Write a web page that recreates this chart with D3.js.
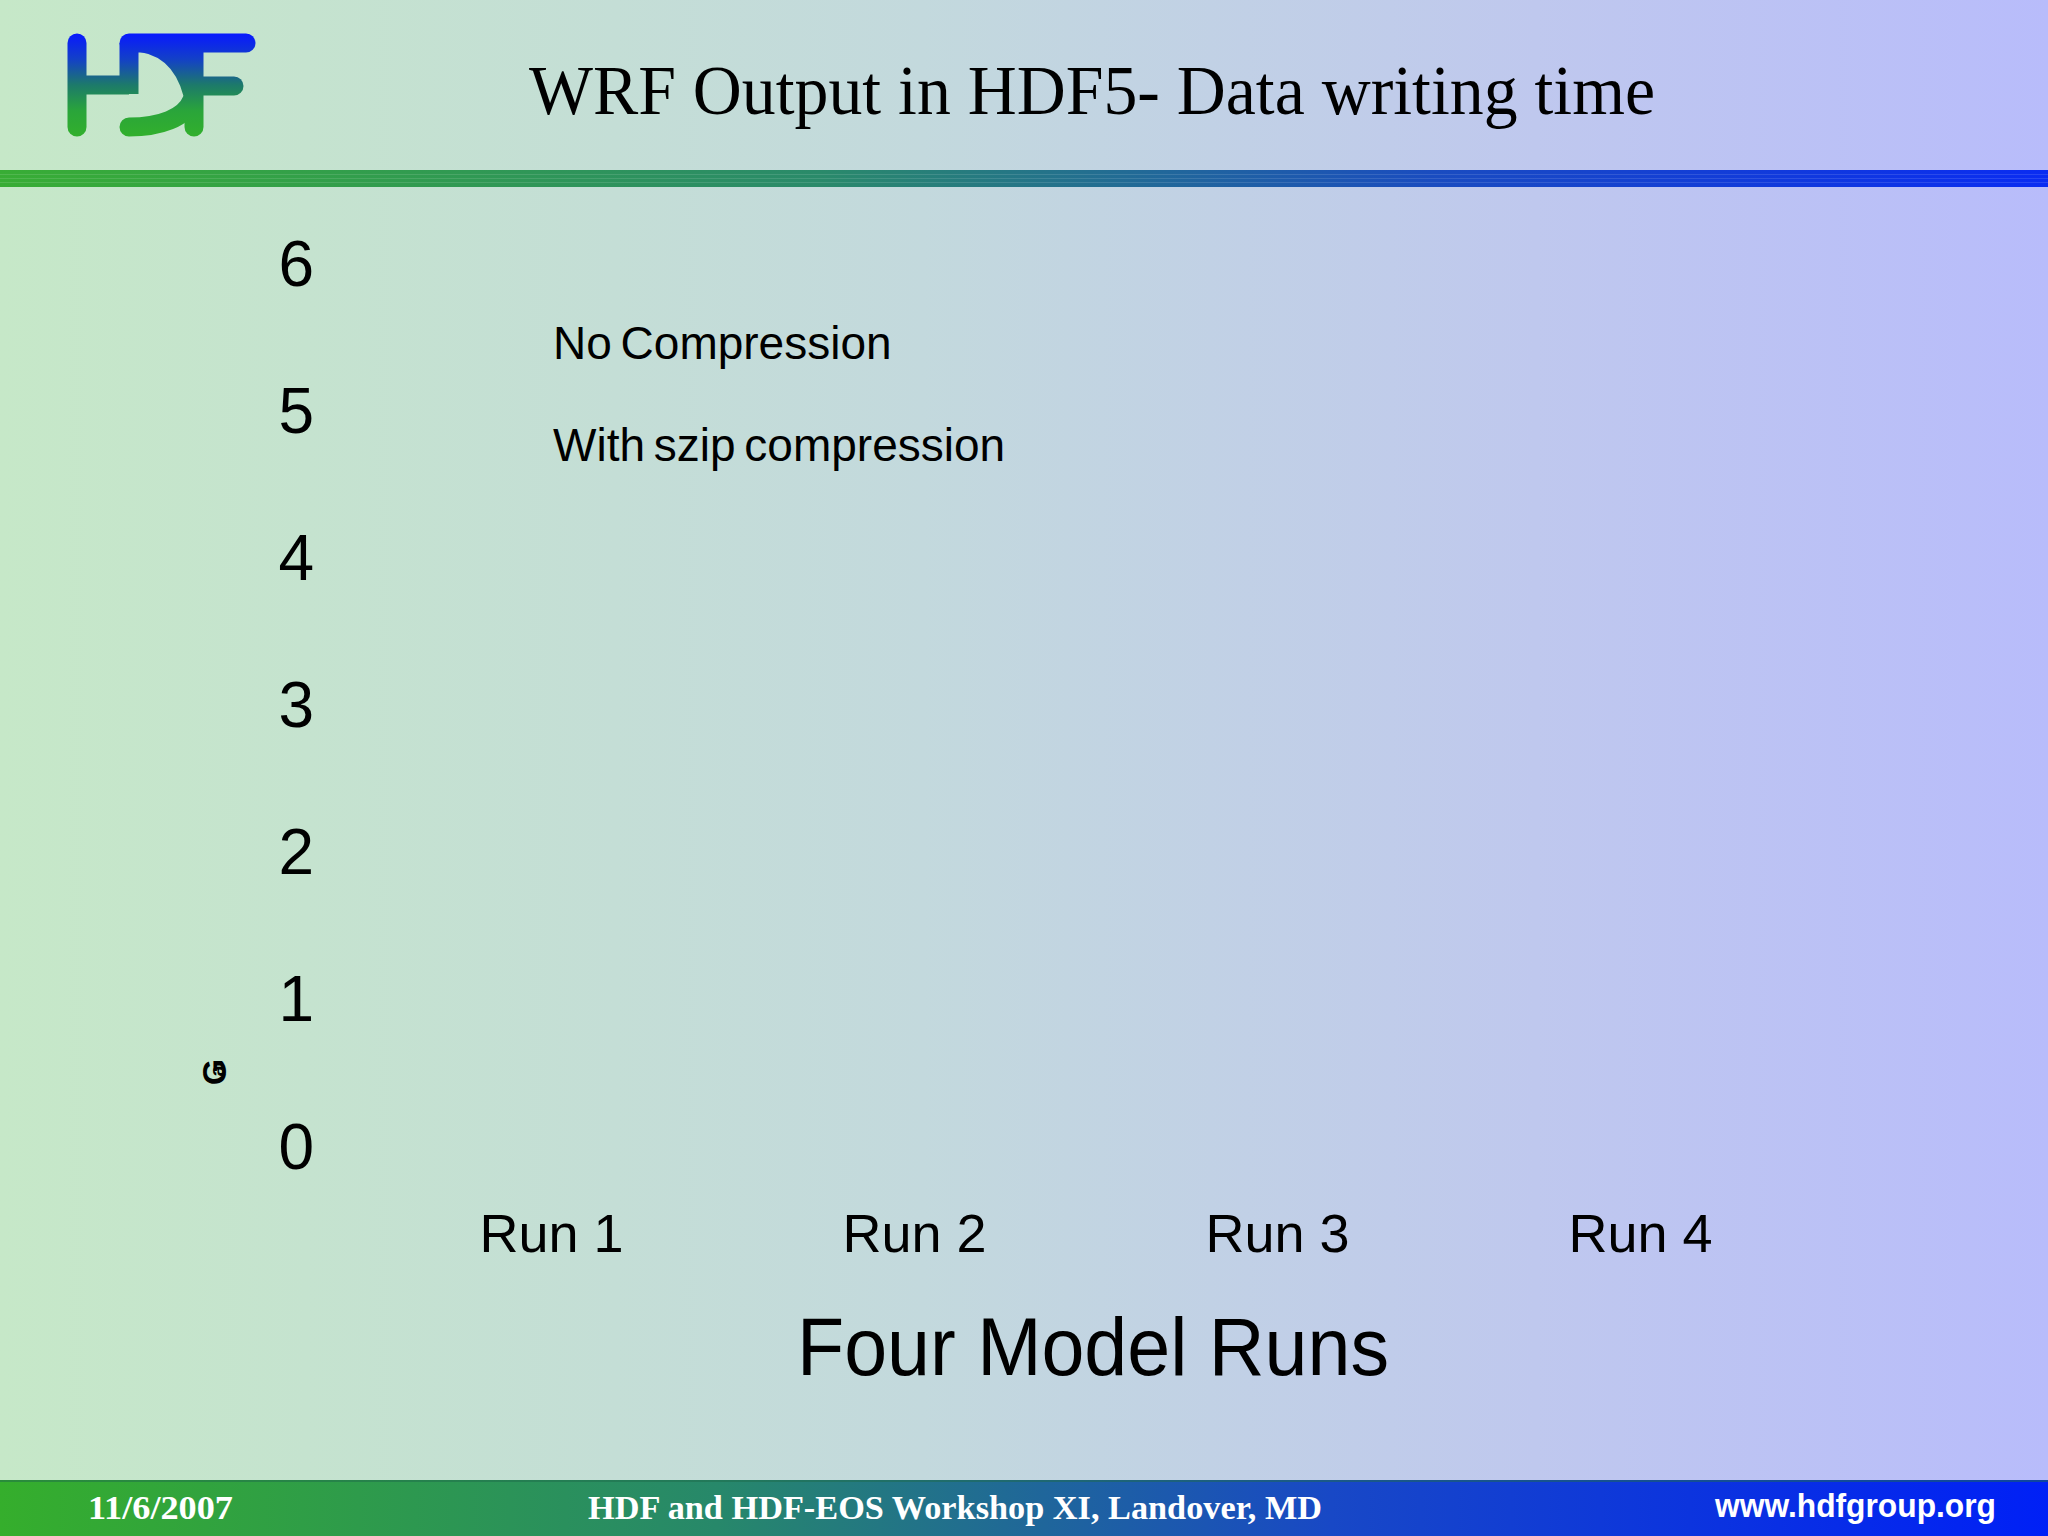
<!DOCTYPE html>
<html><head><meta charset="utf-8">
<script src="https://cdn.jsdelivr.net/npm/d3@7"></script>
<style>html,body{margin:0;padding:0;overflow:hidden;background:#c4e4cc}</style>
</head><body>
<script>
// ---- data ----
const runs = ["Run 1", "Run 2", "Run 3", "Run 4"];
const seriesNames = ["No Compression", "With szip compression"];
// bar values are not visible in the reference slide (bars did not render)
const noCompression = [null, null, null, null];
const szipCompression = [null, null, null, null];
const yTicks = [0, 1, 2, 3, 4, 5, 6];
const titleText = "WRF Output in HDF5- Data writing time";
const xAxisTitle = "Four Model Runs";
const footerTexts = ["11/6/2007", "HDF and HDF-EOS Workshop XI, Landover, MD", "www.hdfgroup.org"];

const W = 2048, H = 1536;
const svg = d3.select("body").append("svg").attr("width", W).attr("height", H);
const defs = svg.append("defs");

function hgrad(id, stops) {
  const g = defs.append("linearGradient").attr("id", id).attr("x1", 0).attr("x2", 1).attr("y1", 0).attr("y2", 0);
  stops.forEach(s => g.append("stop").attr("offset", s[0]).attr("stop-color", s[1]));
}
hgrad("bg", [[0, "#c6e8c8"], [0.45, "#c3d9dd"], [0.75, "#bfc8ee"], [1, "#b8bcfb"]]);
hgrad("band", [[0, "#38ad35"], [0.4, "#2a8a6a"], [0.7, "#1a4cc0"], [1, "#0a2cf2"]]);
hgrad("foot", [[0, "#35ae2c"], [0.35, "#27886a"], [0.65, "#1848c6"], [1, "#0020f6"]]);
const lg = defs.append("linearGradient").attr("id", "logo").attr("x1", 0).attr("x2", 0)
  .attr("gradientUnits", "userSpaceOnUse").attr("y1", 33).attr("y2", 137);
lg.append("stop").attr("offset", 0).attr("stop-color", "#0818ff");
lg.append("stop").attr("offset", 0.25).attr("stop-color", "#1340c8");
lg.append("stop").attr("offset", 0.5).attr("stop-color", "#1d7a6a");
lg.append("stop").attr("offset", 0.75).attr("stop-color", "#2aa53a");
lg.append("stop").attr("offset", 1).attr("stop-color", "#32b02c");

svg.append("rect").attr("width", W).attr("height", H).attr("fill", "url(#bg)");

// top band
svg.append("rect").attr("x", 0).attr("y", 170).attr("width", W).attr("height", 17).attr("fill", "url(#band)");
[174, 178, 182].forEach(y => svg.append("rect").attr("x", 0).attr("y", y).attr("width", W).attr("height", 1)
  .attr("fill", "#ffffff").attr("opacity", 0.12));

// footer band
svg.append("rect").attr("x", 0).attr("y", 1480).attr("width", W).attr("height", 56).attr("fill", "url(#foot)");
svg.append("rect").attr("x", 0).attr("y", 1480).attr("width", W).attr("height", 2).attr("fill", "#1d6a4a").attr("opacity", 0.5);

// logo
const logo = svg.append("g").attr("fill", "none").attr("stroke", "url(#logo)").attr("stroke-width", 19).attr("stroke-linecap", "round");
logo.append("path").attr("d", "M77,43 V127");
logo.append("path").attr("d", "M77,85 H129").attr("stroke-linecap", "butt");
logo.append("path").attr("d", "M129,43 H246");
logo.append("path").attr("d", "M129,43 V94").attr("stroke-linecap", "butt");
logo.append("path").attr("d", "M194,50 V127");
logo.append("path").attr("d", "M194,86 H234");
logo.append("path").attr("d", "M129,127 C160,127 185,118 192,100");
svg.append("path").attr("d", "M140,52 Q178,58 186,108 L203,108 L203,52 Z").attr("fill", "url(#logo)");

// title
svg.append("text").attr("x", 1092).attr("y", 114).attr("text-anchor", "middle")
  .attr("font-family", "'Liberation Serif','Times New Roman',serif").attr("font-size", 70)
  .attr("textLength", 1126).attr("lengthAdjust", "spacingAndGlyphs").attr("fill", "#000").text(titleText);

// scales
const y = d3.scaleLinear().domain([0, 6]).range([1147, 264]);
const x = d3.scaleBand().domain(runs).range([370, 1822]).padding(0);
const xs = d3.scaleBand().domain(seriesNames).range([0, x.bandwidth()]).paddingInner(0.1).paddingOuter(0.4);

// y axis labels (no axis line visible)
const yAxis = d3.axisLeft(y).tickValues(yTicks).tickSize(0).tickPadding(0).tickFormat(d3.format("d"));
const yg = svg.append("g").attr("transform", "translate(314,0)").call(yAxis);
yg.select(".domain").remove();
yg.selectAll("text").attr("font-family", "'Liberation Sans',Arial,sans-serif").attr("font-size", 64)
  .attr("fill", "#000").attr("dy", "0.33em");

// x axis labels
const xAxis = d3.axisBottom(x).tickSize(0).tickPadding(0);
const xg = svg.append("g").attr("transform", "translate(0,1252)").call(xAxis);
xg.select(".domain").remove();
xg.selectAll("text").attr("font-family", "'Liberation Sans',Arial,sans-serif").attr("font-size", 54)
  .attr("fill", "#000").attr("dy", 0).attr("y", 0);

// bars (none visible in the reference)
const seriesData = [noCompression, szipCompression];
const barColors = ["#333399", "#993366"];
seriesData.forEach((vals, si) => {
  svg.append("g").selectAll("rect").data(runs.map((r, i) => ({ r, v: vals[i] })).filter(d => d.v != null))
    .join("rect")
    .attr("x", d => x(d.r) + xs(seriesNames[si])).attr("width", xs.bandwidth())
    .attr("y", d => y(d.v)).attr("height", d => y(0) - y(d.v)).attr("fill", barColors[si]);
});

// legend texts
const legendY = [359, 461];
svg.append("g").selectAll("text").data(seriesNames).join("text")
  .attr("x", 553).attr("y", (d, i) => legendY[i])
  .attr("font-family", "'Liberation Sans',Arial,sans-serif").attr("font-size", 46).attr("fill", "#000")
  .style("word-spacing", "-4px").text(d => d);

// x axis title
svg.append("text").attr("x", 797).attr("y", 1375)
  .attr("font-family", "'Liberation Sans',Arial,sans-serif").attr("font-size", 81)
  .attr("textLength", 592).attr("lengthAdjust", "spacingAndGlyphs").attr("fill", "#000").text(xAxisTitle);

// garbled tiny y-axis title glyph
const gl = svg.append("g").attr("transform", "translate(214,1072) rotate(-90)");
gl.append("text").attr("text-anchor", "middle").attr("dy", "0.35em")
  .attr("font-family", "'Liberation Sans',Arial,sans-serif").attr("font-weight", "bold").attr("font-size", 34)
  .attr("fill", "#000").text("G");
gl.append("text").attr("text-anchor", "middle").attr("dy", "0.35em").attr("x", 1).attr("y", 3)
  .attr("font-family", "'Liberation Sans',Arial,sans-serif").attr("font-weight", "bold").attr("font-size", 20)
  .attr("fill", "#000").text("a");

// footer texts
const ft = svg.append("g").attr("fill", "#fff").attr("font-weight", "bold");
ft.append("text").attr("x", 88).attr("y", 1519).attr("font-family", "'Liberation Serif',serif").attr("font-size", 34)
  .attr("textLength", 145).attr("lengthAdjust", "spacingAndGlyphs").text(footerTexts[0]);
ft.append("text").attr("x", 588).attr("y", 1519).attr("font-family", "'Liberation Serif',serif").attr("font-size", 34)
  .attr("textLength", 734).attr("lengthAdjust", "spacingAndGlyphs").text(footerTexts[1]);
ft.append("text").attr("x", 1715).attr("y", 1517).attr("font-family", "'Liberation Sans',sans-serif").attr("font-size", 34)
  .attr("textLength", 281).attr("lengthAdjust", "spacingAndGlyphs").text(footerTexts[2]);
</script>
</body></html>
